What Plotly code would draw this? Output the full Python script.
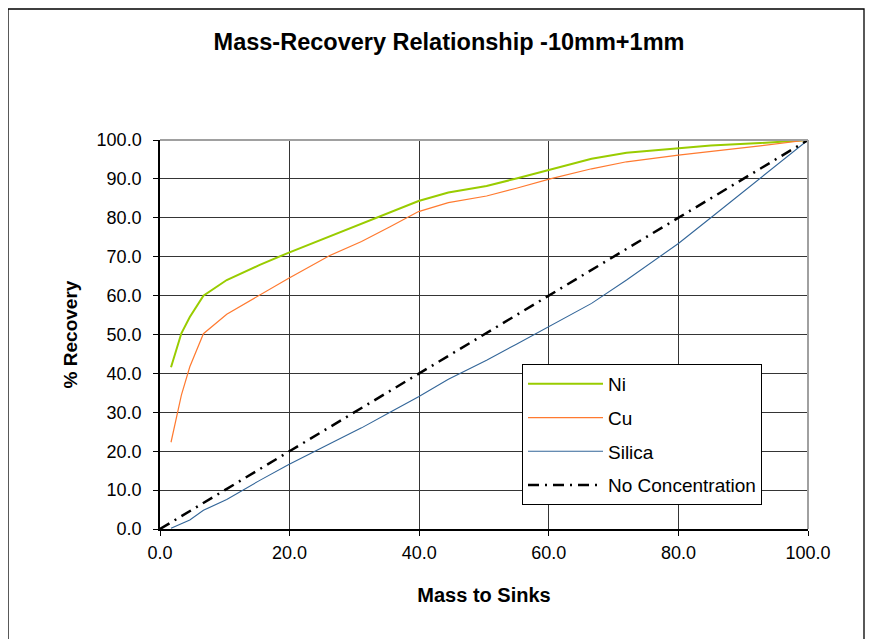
import plotly.graph_objects as go

mass = [1.7, 3.3, 4.6, 6.7, 10.3, 15.4, 19.8, 26.2, 31.1, 35.5, 39.9, 44.5,
        50.4, 55.0, 60.2, 66.6, 72.0, 80.0, 85.0, 92.6, 100.0]
ni = [41.6, 50.3, 54.5, 60.0, 64.0, 67.9, 71.0, 75.3, 78.5, 81.5, 84.3, 86.5,
      88.2, 90.1, 92.3, 95.2, 96.7, 97.9, 98.6, 99.2, 100.0]
cu = [22.3, 34.4, 41.7, 50.2, 55.2, 60.2, 64.4, 70.3, 73.9, 77.7, 81.6, 83.9,
      85.6, 87.6, 90.0, 92.6, 94.4, 96.1, 97.0, 98.5, 100.0]
silica = [0.2, 1.3, 2.3, 4.8, 7.6, 12.5, 16.5, 21.9, 26.0, 30.0, 34.0, 38.5,
          43.4, 47.5, 52.2, 58.0, 64.0, 73.4, 80.0, 90.2, 100.0]
no_conc_x = [0.0, 100.0]
no_conc_y = [0.0, 100.0]

x_ticks = [0, 20, 40, 60, 80, 100]
y_ticks = [0, 10, 20, 30, 40, 50, 60, 70, 80, 90, 100]

FONT = "Liberation Sans, Arial, sans-serif"

fig = go.Figure()
fig.add_trace(go.Scatter(x=mass, y=ni, mode="lines", name="Ni", legendgroup="a",
                         line=dict(color="#99CC00", width=2)))
fig.add_trace(go.Scatter(x=mass, y=cu, mode="lines", name="Cu", legendgroup="b",
                         line=dict(color="#FF7A30", width=1.2)))
fig.add_trace(go.Scatter(x=mass, y=silica, mode="lines", name="Silica", legendgroup="c",
                         line=dict(color="#336699", width=1.1)))
fig.add_trace(go.Scatter(x=no_conc_x, y=no_conc_y, mode="lines", name="No Concentration",
                         legendgroup="d",
                         line=dict(color="black", width=2.5, dash="11px,6px,2px,6px")))

# page body has an 8px margin, so the figure starts at (8, 8) in the window
OFF = 8
W, H = 877, 639
PX0, PX1, PY0, PY1 = 160, 808, 140, 529   # plot area in window pixels
L = PX0 - OFF
T = PY0 - OFF
R = W - (PX1 - OFF)
B = H - (PY1 - OFF)
pw, ph = PX1 - PX0, PY1 - PY0


def px(xw):
    return (xw - PX0) / pw


def py(yw):
    return (PY1 - yw) / ph


# outer chart frame
fig.add_shape(type="rect", xref="paper", yref="paper",
              x0=px(8), x1=px(864), y0=py(660), y1=py(9),
              line=dict(color="black", width=1.3), fillcolor="rgba(0,0,0,0)", layer="below")
# plot-area top and right border (gray)
fig.add_shape(type="line", xref="paper", yref="paper", x0=0, x1=1, y0=1, y1=1,
              line=dict(color="#A0A0A0", width=2))
fig.add_shape(type="line", xref="paper", yref="paper", x0=1, x1=1, y0=0, y1=1,
              line=dict(color="#A0A0A0", width=2))

fig.update_layout(
    width=W, height=H,
    margin=dict(l=L, r=R, t=T, b=B),
    paper_bgcolor="white", plot_bgcolor="white",
    font=dict(family=FONT, color="black", size=18),
    title=dict(text="<b>Mass-Recovery Relationship -10mm+1mm</b>",
               x=(449 - OFF) / W, xanchor="center", y=1 - (42 - OFF) / H, yanchor="middle",
               font=dict(size=23.5, family=FONT, color="black")),
    showlegend=True,
    legend=dict(x=px(522), y=py(364), xanchor="left", yanchor="top",
                bgcolor="white", bordercolor="black", borderwidth=1,
                font=dict(size=19, family=FONT, color="black"),
                tracegroupgap=6, itemwidth=75),
    xaxis=dict(range=[0, 100], tickvals=x_ticks, tickformat=".1f",
               showgrid=True, gridcolor="#353535", gridwidth=1,
               showline=True, linecolor="black", linewidth=1.5,
               ticks="outside", ticklen=5, tickcolor="black",
               zeroline=False, ticklabelstandoff=2,
               title=dict(text="<b>Mass to Sinks</b>", font=dict(size=20, family=FONT),
                          standoff=26)),
    yaxis=dict(range=[0, 100], tickvals=y_ticks, tickformat=".1f",
               showgrid=True, gridcolor="#353535", gridwidth=1,
               showline=True, linecolor="black", linewidth=1.5,
               ticks="outside", ticklen=5, tickcolor="black",
               zeroline=False, ticklabelstandoff=8,
               title=dict(text="<b>% Recovery</b>", font=dict(size=19, family=FONT),
                          standoff=14)),
)

fig.write_html("out.html")
